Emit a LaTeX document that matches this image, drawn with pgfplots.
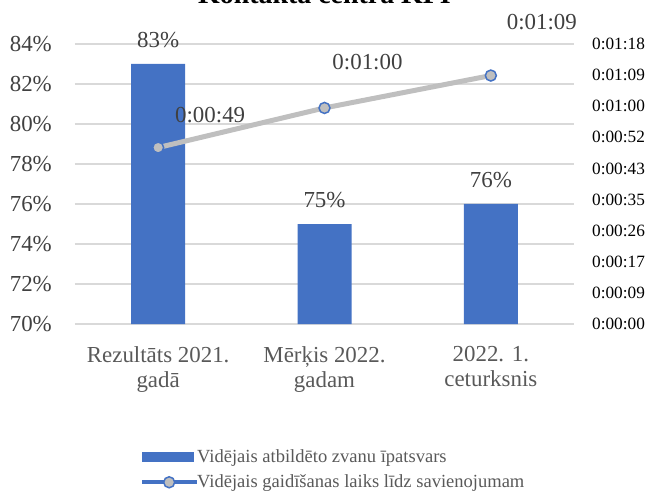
\documentclass[border=0pt]{standalone}
\usepackage{pgfplots}
\pgfplotsset{compat=1.18}
\usepackage{pgfplotstable}
\usepackage{fontspec}
\setmainfont{Liberation Serif}

\definecolor{barblue}{HTML}{4472C4}
\definecolor{linegray}{HTML}{BFBFBF}
\definecolor{gridgray}{HTML}{D9D9D9}
\definecolor{labelgray}{HTML}{404040}
\definecolor{catgray}{HTML}{595959}

% answered calls share, %
\pgfplotstableread{
x share
0 83
1 75
2 76
}\sharedata

% waiting time, seconds; label offsets in bp
\pgfplotstableread{
x sec label dx dy
0 49 0:00:49 52 33
1 60 0:01:00 43 46
2 69 0:01:09 51 53
}\waitdata

\begin{document}
\begin{tikzpicture}
\begin{axis}[
    scale only axis, width=499bp, height=280bp,
    xmin=-0.5, xmax=2.5, ymin=70, ymax=84,
    ybar, bar width=54bp,
    ytick={70,72,...,84},
    yticklabel={\pgfmathprintnumber{\tick}\%},
    /pgf/number format/assume math mode=true,
    yticklabel style={font=\fontsize{23}{26}\selectfont, text=labelgray, inner sep=0pt, anchor=east, xshift=-23bp},
    xtick={0,1,2},
    xticklabels={{Rezultāts 2021.\\gadā},{Mērķis 2022.\\gadam},{2022. 1.\\ceturksnis}},
    xticklabel style={font=\fontsize{23}{25}\selectfont, text=catgray, align=center, inner sep=0pt, anchor=north, yshift=-18bp},
    tick style={draw=none},
    axis line style={draw=none},
    ymajorgrids, grid style={gridgray, line width=1.2bp},
    nodes near coords={\pgfmathprintnumber{\pgfplotspointmeta}\%},
    nodes near coords style={font=\fontsize{23}{26}\selectfont, text=labelgray, inner sep=0pt, anchor=south, yshift=16bp},
    clip=false,
]
\addplot[fill=barblue, draw=none] table[x=x, y=share] \sharedata;
\node[font=\bfseries\fontsize{28}{32}\selectfont, anchor=base] at (rel axis cs:0.5,1) [yshift=40bp] {Kontakta centra KPI};
\end{axis}
\begin{axis}[
    scale only axis, width=499bp, height=280bp,
    xmin=-0.5, xmax=2.5, ymin=0, ymax=77.76,
    hide x axis,
    axis y line*=right,
    axis line style={draw=none},
    tick style={draw=none},
    ytick={0,8.64,17.28,25.92,34.56,43.2,51.84,60.48,69.12,77.76},
    yticklabels={0:00:00,0:00:09,0:00:17,0:00:26,0:00:35,0:00:43,0:00:52,0:01:00,0:01:09,0:01:18},
    yticklabel style={font=\fontsize{17.3}{20}\selectfont, text=black, inner sep=0pt, anchor=west, xshift=18bp},
    clip=false,
    legend style={draw=none, fill=none, at={(0.1242,-0.52)}, anchor=west,
        font=\fontsize{18.6}{21}\selectfont, text=catgray,
        row sep=11bp, column sep=-2bp, nodes={inner sep=0pt}},
    legend cell align=left,
]
\addlegendimage{legend image code/.code={\fill[barblue] (0bp,-4.5bp) rectangle (51bp,4.5bp);}}
\addlegendentry{Vidējais atbildēto zvanu īpatsvars}
\addplot[linegray, line width=5bp, mark=*, mark size=5.5bp,
    mark options={fill=linegray, draw=barblue, line width=1.5bp},
    legend image code/.code={
        \draw[barblue, line width=4bp] (0bp,0bp) -- (55bp,0bp);
        \draw[fill=linegray, draw=barblue, line width=1.5bp] (27bp,0bp) circle (5.5bp);},
    nodes near coords, point meta=explicit symbolic,
    visualization depends on={\thisrow{dx} \as \dx},
    visualization depends on={\thisrow{dy} \as \dy},
    nodes near coords style={font=\fontsize{23}{26}\selectfont, text=labelgray, inner sep=0pt, anchor=center, xshift=\dx*1bp, yshift=\dy*1bp},
] table[x=x, y=sec, meta=label] \waitdata;
\addlegendentry{Vidējais gaidīšanas laiks līdz savienojumam}
\end{axis}
\pgfresetboundingbox
\useasboundingbox (-75bp,-167bp) rectangle (576bp,324bp);
\end{tikzpicture}
\end{document}
